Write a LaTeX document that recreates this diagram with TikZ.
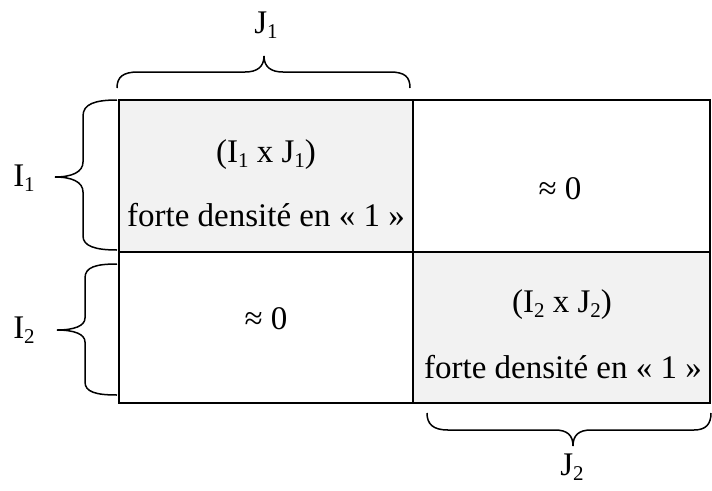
\documentclass[tikz,border=0pt]{standalone}
\usepackage{fontspec}
\setmainfont{Liberation Serif}
\newcommand\mysub[1]{\raisebox{-0.14em}{\fontsize{21}{21}\selectfont #1}}
\begin{document}
\begin{tikzpicture}[x=1pt,y=-1pt,
  grid/.style={line width=1.8pt},
  hot/.style={fill=black!5},
  brc/.style={line width=1.5pt},
  txt/.style={inner sep=0pt,font=\fontsize{33}{36}\selectfont}]
\useasboundingbox (0,0) rectangle (712,490);
% cells
\coordinate (tl) at (119,100);
\coordinate (tm) at (413,100);
\coordinate (tr) at (710,100);
\coordinate (ml) at (119,252);
\coordinate (mm) at (413,252);
\coordinate (mr) at (710,252);
\coordinate (bl) at (119,403);
\coordinate (bm) at (413,403);
\coordinate (br) at (710,403);
\fill[hot] (tl) rectangle (mm);
\fill[hot] (mm) rectangle (br);
\draw[grid] (tl) rectangle (br);
\draw[grid] (tm) -- (bm);
\draw[grid] (ml) -- (mr);
% cell texts
\node[txt] (a1) at (266,155) {(I\mysub{1} x J\mysub{1})};
\node[txt] (a2) at (266,215) {forte densité en « 1 »};
\node[txt] (b1) at (560,189) {≈ 0};
\node[txt] (c1) at (266,319) {≈ 0};
\node[txt] (d1) at (562,305) {(I\mysub{2} x J\mysub{2})};
\node[txt] (d2) at (563,367) {forte densité en « 1 »};
% braces
\draw[brc] (117,88) .. controls (117,77) and (123,72) .. (138,72) -- (245,72)
  .. controls (257,72) and (264,67) .. (264,56)
  .. controls (264,67) and (271,72) .. (283,72) -- (390,72)
  .. controls (405,72) and (410,77) .. (410,88);
\draw[brc] (117,100) .. controls (95,100) and (83,104) .. (83,116) -- (83,162)
  .. controls (83,172) and (72,177) .. (55,177)
  .. controls (72,177) and (83,182) .. (83,192) -- (83,236)
  .. controls (83,246) and (95,250) .. (117,250);
\draw[brc] (117,264) .. controls (96,264) and (85,267) .. (85,278) -- (85,318)
  .. controls (85,326) and (74,330) .. (57,330)
  .. controls (74,330) and (85,334) .. (85,342) -- (85,382)
  .. controls (85,392) and (96,395) .. (117,395);
\draw[brc] (427,413) .. controls (427,424) and (433,430) .. (448,430) -- (555,430)
  .. controls (567,430) and (573,435) .. (573,446)
  .. controls (573,435) and (579,430) .. (591,430) -- (694,430)
  .. controls (706,430) and (711,424) .. (711,413);
% brace labels
\node[txt] (j1) at (266,25) {J\mysub{1}};
\node[txt] (i1) at (24,178) {I\mysub{1}};
\node[txt] (i2) at (24,330) {I\mysub{2}};
\node[txt] (j2) at (572,467) {J\mysub{2}};
\end{tikzpicture}
\end{document}
